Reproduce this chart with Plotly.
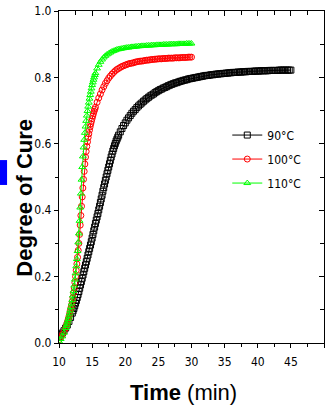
import plotly.graph_objects as go

# ---- cure kinetics data: time (min) vs degree of cure ----
time_90 = [
    10.0, 10.25, 10.5, 10.75, 11.0, 11.25, 11.5, 11.75,
    12.0, 12.125, 12.25, 12.375, 12.5, 12.625, 12.75, 12.875,
    13.0, 13.125, 13.25, 13.375, 13.5, 13.625, 13.75, 13.875,
    14.0, 14.125, 14.25, 14.375, 14.5, 14.625, 14.75, 14.875,
    15.0, 15.125, 15.25, 15.375, 15.5, 15.625, 15.75, 15.875,
    16.0, 16.125, 16.25, 16.375, 16.5, 16.625, 16.75, 16.875,
    17.0, 17.125, 17.25, 17.375, 17.5, 17.625, 17.75, 17.875,
    18.0, 18.125, 18.25, 18.375, 18.5, 18.625, 18.75, 18.875,
    19.0, 19.25, 19.5, 19.75, 20.0, 20.25, 20.5, 20.75,
    21.0, 21.25, 21.5, 21.75, 22.0, 22.25, 22.5, 22.75,
    23.0, 23.25, 23.5, 23.75, 24.0, 24.25, 24.5, 24.75,
    25.0, 25.25, 25.5, 25.75, 26.0, 26.25, 26.5, 26.75,
    27.0, 27.25, 27.5, 27.75, 28.0, 28.25, 28.5, 28.75,
    29.0, 29.25, 29.5, 29.75, 30.0, 30.25, 30.5, 30.75,
    31.0, 31.25, 31.5, 31.75, 32.0, 32.25, 32.5, 32.75,
    33.0, 33.25, 33.5, 33.75, 34.0, 34.25, 34.5, 34.75,
    35.0, 35.25, 35.5, 35.75, 36.0, 36.25, 36.5, 36.75,
    37.0, 37.25, 37.5, 37.75, 38.0, 38.25, 38.5, 38.75,
    39.0, 39.25, 39.5, 39.75, 40.0, 40.25, 40.5, 40.75,
    41.0, 41.25, 41.5, 41.75, 42.0, 42.25, 42.5, 42.75,
    43.0, 43.25, 43.5, 43.75, 44.0, 44.25, 44.5, 44.75,
    45.0,
]
cure_90 = [
    0.020, 0.025, 0.030, 0.037, 0.045, 0.054, 0.065, 0.077,
    0.090, 0.097, 0.104, 0.112, 0.120, 0.128, 0.137, 0.146,
    0.155, 0.165, 0.175, 0.185, 0.195, 0.205, 0.215, 0.225,
    0.235, 0.245, 0.255, 0.265, 0.275, 0.285, 0.295, 0.305,
    0.316, 0.327, 0.338, 0.349, 0.360, 0.370, 0.380, 0.390,
    0.401, 0.412, 0.423, 0.434, 0.445, 0.457, 0.468, 0.479,
    0.490, 0.500, 0.510, 0.520, 0.530, 0.540, 0.550, 0.560,
    0.569, 0.578, 0.586, 0.594, 0.601, 0.608, 0.614, 0.620,
    0.626, 0.636, 0.646, 0.655, 0.663, 0.671, 0.678, 0.685,
    0.692, 0.698, 0.703, 0.709, 0.714, 0.719, 0.723, 0.728,
    0.732, 0.736, 0.740, 0.744, 0.747, 0.750, 0.754, 0.757,
    0.760, 0.763, 0.765, 0.768, 0.770, 0.772, 0.775, 0.777,
    0.779, 0.781, 0.783, 0.784, 0.786, 0.788, 0.789, 0.791,
    0.792, 0.793, 0.795, 0.796, 0.797, 0.798, 0.799, 0.800,
    0.801, 0.802, 0.803, 0.804, 0.805, 0.806, 0.806, 0.807,
    0.808, 0.808, 0.809, 0.810, 0.810, 0.811, 0.811, 0.812,
    0.812, 0.813, 0.813, 0.814, 0.814, 0.815, 0.815, 0.815,
    0.816, 0.816, 0.816, 0.817, 0.817, 0.817, 0.818, 0.818,
    0.818, 0.818, 0.819, 0.819, 0.819, 0.819, 0.820, 0.820,
    0.820, 0.820, 0.820, 0.821, 0.821, 0.821, 0.821, 0.821,
    0.821, 0.822, 0.822, 0.822, 0.822, 0.822, 0.822, 0.822,
    0.822,
]

# the 100 and 110 degC runs share one sampling schedule
time_fast = [
    10.0, 10.25, 10.5, 10.75,
    11.0, 11.1, 11.2, 11.3, 11.4, 11.5, 11.6, 11.7, 11.8, 11.9,
    12.0, 12.1, 12.2, 12.3, 12.4, 12.5, 12.6, 12.7, 12.8, 12.9,
    13.0, 13.1, 13.2, 13.3, 13.4, 13.5, 13.6, 13.7, 13.8, 13.9,
    14.0, 14.1, 14.2, 14.3, 14.4, 14.5, 14.6, 14.7, 14.8, 14.9,
    15.0, 15.1, 15.2, 15.3, 15.4, 15.5,
    15.75, 16.0, 16.25, 16.5, 16.75, 17.0, 17.25, 17.5,
    17.75, 18.0, 18.25, 18.5, 18.75, 19.0, 19.25, 19.5,
    19.75, 20.0, 20.25, 20.5, 20.75, 21.0, 21.25, 21.5,
    21.75, 22.0, 22.25, 22.5, 22.75, 23.0, 23.25, 23.5,
    23.75, 24.0, 24.25, 24.5, 24.75, 25.0, 25.25, 25.5,
    25.75, 26.0, 26.25, 26.5, 26.75, 27.0, 27.25, 27.5,
    27.75, 28.0, 28.25, 28.5, 28.75, 29.0, 29.25, 29.5,
    29.75, 30.0,
]
cure_100 = [
    0.010, 0.017, 0.025, 0.034,
    0.045, 0.051, 0.058, 0.065, 0.072, 0.080, 0.088, 0.097, 0.106, 0.115,
    0.125, 0.137, 0.151, 0.166, 0.182, 0.200, 0.219, 0.238, 0.258, 0.279,
    0.300, 0.327, 0.355, 0.384, 0.412, 0.440, 0.467, 0.493, 0.517, 0.539,
    0.560, 0.577, 0.592, 0.606, 0.619, 0.630, 0.641, 0.651, 0.660, 0.668,
    0.676, 0.684, 0.691, 0.698, 0.704, 0.710,
    0.725, 0.738, 0.750, 0.762, 0.772, 0.782, 0.790, 0.798,
    0.804, 0.810, 0.815, 0.820, 0.824, 0.827, 0.830, 0.833,
    0.835, 0.837, 0.839, 0.841, 0.842, 0.843, 0.844, 0.846,
    0.847, 0.848, 0.849, 0.849, 0.850, 0.851, 0.852, 0.852,
    0.853, 0.854, 0.854, 0.855, 0.855, 0.856, 0.856, 0.856,
    0.857, 0.857, 0.857, 0.858, 0.858, 0.858, 0.858, 0.859,
    0.859, 0.859, 0.859, 0.860, 0.860, 0.860, 0.860, 0.861,
    0.861, 0.861,
]
cure_110 = [
    0.005, 0.012, 0.020, 0.031,
    0.045, 0.051, 0.058, 0.065, 0.072, 0.080, 0.089, 0.098, 0.108, 0.119,
    0.130, 0.143, 0.157, 0.173, 0.191, 0.210, 0.231, 0.253, 0.277, 0.303,
    0.330, 0.368, 0.408, 0.450, 0.492, 0.530, 0.562, 0.589, 0.612, 0.633,
    0.652, 0.669, 0.685, 0.699, 0.712, 0.724, 0.736, 0.747, 0.757, 0.767,
    0.777, 0.785, 0.793, 0.800, 0.807, 0.813,
    0.827, 0.838, 0.847, 0.854, 0.860, 0.865, 0.869, 0.872,
    0.875, 0.878, 0.880, 0.882, 0.884, 0.885, 0.886, 0.887,
    0.888, 0.889, 0.890, 0.890, 0.891, 0.892, 0.892, 0.893,
    0.893, 0.894, 0.894, 0.895, 0.895, 0.895, 0.896, 0.896,
    0.896, 0.897, 0.897, 0.897, 0.898, 0.898, 0.898, 0.898,
    0.899, 0.899, 0.899, 0.899, 0.900, 0.900, 0.900, 0.900,
    0.900, 0.901, 0.901, 0.901, 0.901, 0.901, 0.902, 0.902,
    0.902, 0.902,
]

series_names = ["90\u00b0C", "100\u00b0C", "110\u00b0C"]
x_ticks = [10, 15, 20, 25, 30, 35, 40, 45, 50]
y_ticks = [0.0, 0.2, 0.4, 0.6, 0.8, 1.0]

NARROW = "Liberation Sans Narrow, Arial Narrow, DejaVu Sans Condensed, sans-serif"
ARIAL = "Liberation Sans, Arial, sans-serif"

fig = go.Figure()

styles = [
    (time_90, cure_90, "#000000", "square-open"),
    (time_fast, cure_100, "#ff0000", "circle-open"),
    (time_fast, cure_110, "#00ff00", "triangle-up-open"),
]
for name, (t, c, col, sym) in zip(series_names, styles):
    fig.add_trace(go.Scatter(
        x=t, y=c, name=name, mode="lines+markers",
        line=dict(color=col, width=1),
        marker=dict(symbol=sym, size=6, color=col, line=dict(color=col, width=1)),
        legendgroup=name,
    ))

# invisible trace that carries the mirrored top/right axes
fig.add_trace(go.Scatter(x=[10], y=[0], xaxis="x2", yaxis="y2", mode="markers",
                         marker=dict(opacity=0), showlegend=False, hoverinfo="skip"))

axis_common = dict(showline=True, linecolor="black", linewidth=1.2, showgrid=False,
                   zeroline=False, tickcolor="black", tickwidth=1)

fig.update_layout(
    width=327, height=409,
    margin=dict(l=59, r=3, t=11, b=66),
    paper_bgcolor="white", plot_bgcolor="white",
    font=dict(family=NARROW, size=12, color="black"),
    xaxis=dict(range=[10, 50], tickvals=x_ticks, ticks="outside", ticklen=4,
               minor=dict(dtick=2.5, tick0=10, ticks="outside", ticklen=2.5, tickcolor="black"),
               tickfont=dict(family=NARROW, size=12), ticklabelstandoff=3, **axis_common),
    yaxis=dict(range=[0, 1.0], tickvals=y_ticks, tickformat=".1f", ticks="outside", ticklen=4,
               minor=dict(dtick=0.1, tick0=0, ticks="outside", ticklen=2.5, tickcolor="black"),
               tickfont=dict(family=NARROW, size=12), **axis_common),
    xaxis2=dict(range=[10, 50], overlaying="x", side="top", tickvals=x_ticks, ticks="inside",
                ticklen=5, showticklabels=False,
                minor=dict(dtick=2.5, tick0=10, ticks="inside", ticklen=3.5, tickcolor="black"),
                **axis_common),
    yaxis2=dict(range=[0, 1.0], overlaying="y", side="right", tickvals=y_ticks, ticks="inside",
                ticklen=5, showticklabels=False,
                minor=dict(dtick=0.1, tick0=0, ticks="inside", ticklen=3.5, tickcolor="black"),
                **axis_common),
    legend=dict(x=0.635, y=0.67, xanchor="left", yanchor="top", bgcolor="rgba(0,0,0,0)",
                font=dict(family=NARROW, size=12), tracegroupgap=5, itemwidth=30),
    showlegend=True,
)

fig.add_annotation(text="<b>Time</b> (min)", xref="paper", yref="paper",
                   x=0.468, y=-0.148, xanchor="center", yanchor="middle",
                   showarrow=False, font=dict(family=ARIAL, size=22, color="black"))
fig.add_annotation(text="<b>Degree of Cure</b>", xref="paper", yref="paper",
                   x=-0.128, y=0.438, xanchor="center", yanchor="middle", textangle=-90,
                   showarrow=False, font=dict(family=ARIAL, size=22, color="black"))

# small blue marker block at the left edge
fig.add_shape(type="rect", xref="paper", yref="paper",
              x0=-0.2226, x1=-0.196, y0=0.476, y1=0.551,
              fillcolor="#0000ff", line=dict(width=0), layer="above")

fig.write_html("out.html")
